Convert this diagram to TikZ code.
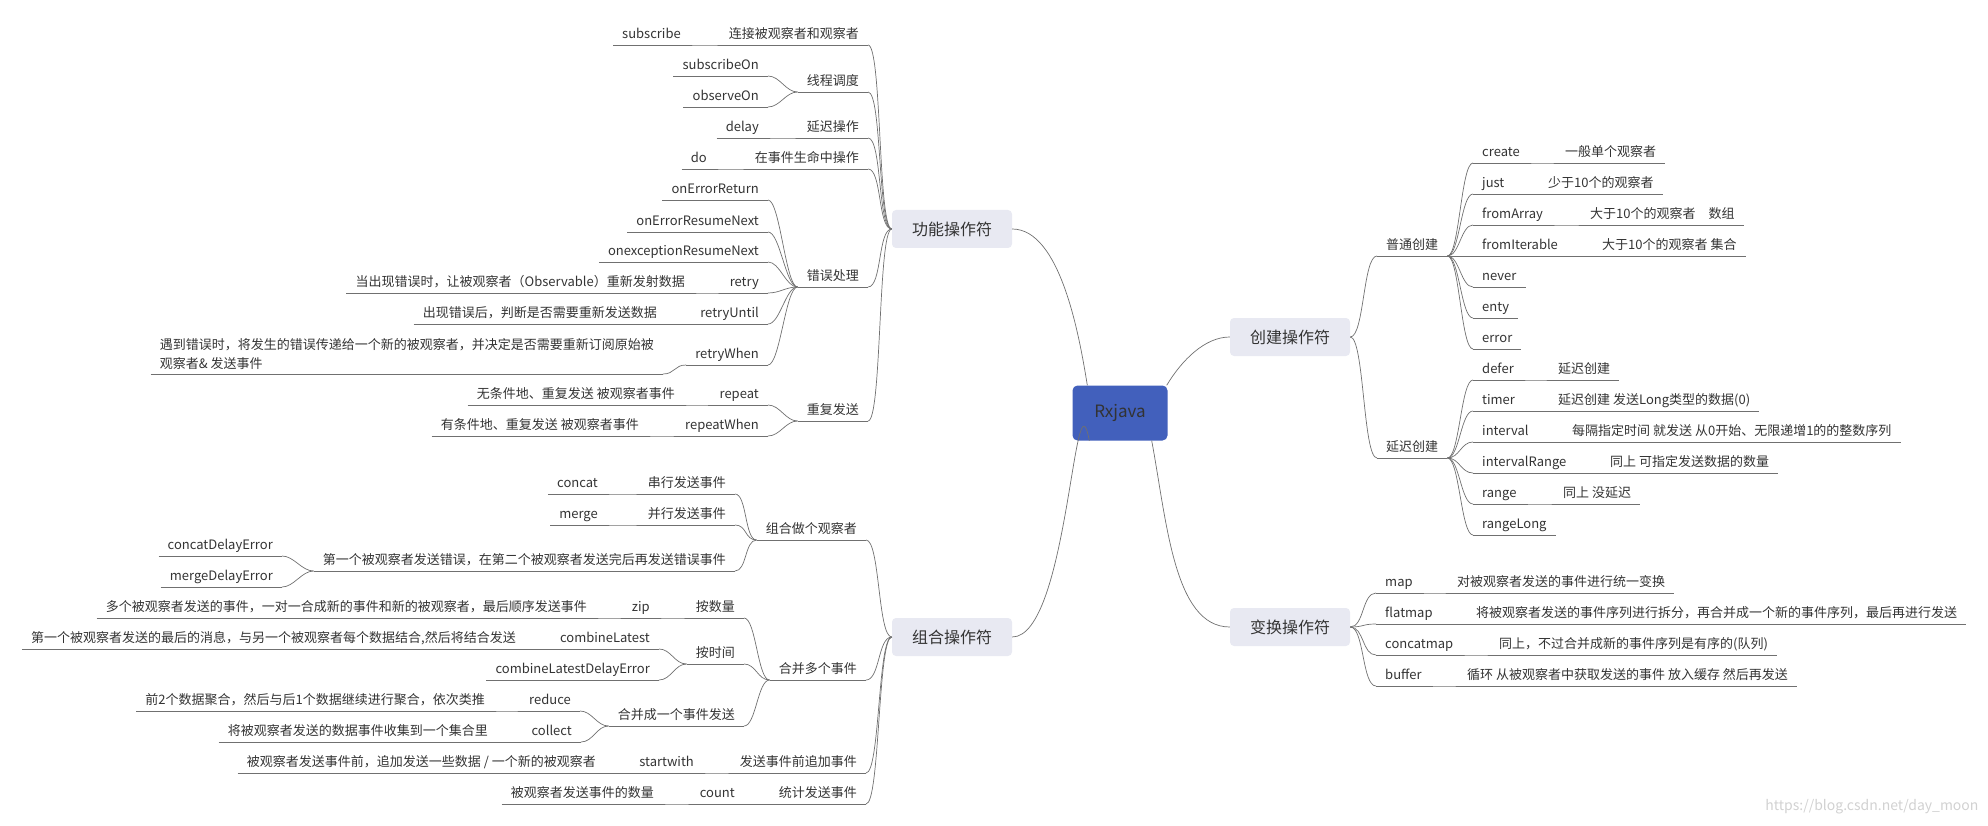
\documentclass[tikz,border=0pt]{standalone}
\usepackage{fontspec}
\setmainfont{Noto Sans CJK SC}
\usepackage{tikz}
\usetikzlibrary{positioning}
\usepackage{xcolor}
\definecolor{ink}{rgb}{0.2, 0.2, 0.2}
\definecolor{wire}{rgb}{0.44, 0.44, 0.44}
\definecolor{boxgray}{rgb}{0.91, 0.914, 0.95}
\definecolor{rootblue}{rgb}{0.26, 0.376, 0.737}
\definecolor{markgray}{rgb}{0.82, 0.82, 0.82}

\begin{document}
\begin{tikzpicture}[x=1pt, y=-1pt,
			lnk/.style={draw=wire, line width=0.7pt},
			lbl/.style={font=\fontsize{13}{19}\selectfont, text=ink, inner xsep=9pt,
				append after command={(\tikzlastnode.south west) edge[lnk] (\tikzlastnode.south east)}},
			topic/.style={lbl, inner ysep=0.5pt, text height=10pt, text depth=5.5pt},
			lt/.style={topic, anchor=south east},
			rt/.style={topic, anchor=south west},
			note/.style={lbl, align=left, inner ysep=4.5pt, anchor=south east},
			opbox/.style={fill=boxgray, rounded corners=4pt, minimum width=120pt, minimum height=38pt, font=\fontsize{16}{18}\selectfont, text=ink},
			rootbox/.style={fill=rootblue, rounded corners=5pt, minimum width=95pt, minimum height=55pt, font=\fontsize{17}{20}\selectfont, text=ink}
		]
		\useasboundingbox (0,0) rectangle (1988,826);
		\node[rootbox] (root) at (1120,413) {Rxjava};

		\node[opbox] (funcop) at (952,229) {功能操作符};
		\node[lt] (link) at (868,45) {连接被观察者和观察者};
		\node[lt] (subscribe) at (690,45) {subscribe};
		\node[lt] (sched) at (868,92) {线程调度};
		\node[lt] (subOn) at (768,76) {subscribeOn};
		\node[lt] (obsOn) at (768,107) {observeOn};
		\node[lt] (delayop) at (868,138) {延迟操作};
		\node[lt] (delay) at (768,138) {delay};
		\node[lt] (lifeop) at (868,169) {在事件生命中操作};
		\node[lt] (do) at (716,169) {do};
		\node[lt] (errop) at (868,287) {错误处理};
		\node[lt] (onErrRet) at (768,200) {onErrorReturn};
		\node[lt] (onErrRes) at (768,232) {onErrorResumeNext};
		\node[lt] (onExcRes) at (768,262) {onexceptionResumeNext};
		\node[lt] (retry) at (768,293) {retry};
		\node[lt] (retryD) at (694,293) {当出现错误时，让被观察者（Observable）重新发射数据};
		\node[lt] (retryUntil) at (768,324) {retryUntil};
		\node[lt] (retryUntilD) at (666,324) {出现错误后，判断是否需要重新发送数据};
		\node[lt] (retryWhen) at (768,365) {retryWhen};
		\node[note] (retryWhenD) at (663,374) {遇到错误时，将发生的错误传递给一个新的被观察者，并决定是否需要重新订阅原始被\\观察者\& 发送事件};
		\node[lt] (repeatop) at (868,421) {重复发送};
		\node[lt] (repeat) at (768,405) {repeat};
		\node[lt] (repeatD) at (684,405) {无条件地、重复发送 被观察者事件};
		\node[lt] (repeatWhen) at (768,436) {repeatWhen};
		\node[lt] (repeatWhenD) at (648,436) {有条件地、重复发送 被观察者事件};

		\node[opbox] (combop) at (952,637) {组合操作符};
		\node[lt] (multiObs) at (866,540) {组合做个观察者};
		\node[lt] (serial) at (735,494) {串行发送事件};
		\node[lt] (concat) at (607,494) {concat};
		\node[lt] (parallel) at (735,525) {并行发送事件};
		\node[lt] (merge) at (607,525) {merge};
		\node[lt] (delayErr) at (735,571) {第一个被观察者发送错误，在第二个被观察者发送完后再发送错误事件};
		\node[lt] (concatDE) at (282,556) {concatDelayError};
		\node[lt] (mergeDE) at (282,587) {mergeDelayError};
		\node[lt] (multiEv) at (866,680) {合并多个事件};
		\node[lt] (byCount) at (744,618) {按数量};
		\node[lt] (zip) at (659,618) {zip};
		\node[lt] (zipD) at (596,618) {多个被观察者发送的事件，一对一合成新的事件和新的被观察者，最后顺序发送事件};
		\node[lt] (byTime) at (744,664) {按时间};
		\node[lt] (combLatest) at (659,649) {combineLatest};
		\node[lt] (combLatestD) at (525,649) {第一个被观察者发送的最后的消息，与另一个被观察者每个数据结合,然后将结合发送};
		\node[lt] (combLatestDE) at (659,680) {combineLatestDelayError};
		\node[lt] (toOne) at (744,726) {合并成一个事件发送};
		\node[lt] (reduce) at (580,711) {reduce};
		\node[lt] (reduceD) at (494,711) {前2个数据聚合，然后与后1个数据继续进行聚合，依次类推};
		\node[lt] (collect) at (581,742) {collect};
		\node[lt] (collectD) at (497,742) {将被观察者发送的数据事件收集到一个集合里};
		\node[lt] (prepend) at (866,773) {发送事件前追加事件};
		\node[lt] (startWith) at (703,773) {startwith};
		\node[lt] (startWithD) at (605,773) {被观察者发送事件前，追加发送一些数据 / 一个新的被观察者};
		\node[lt] (countop) at (866,804) {统计发送事件};
		\node[lt] (count) at (744,804) {count};
		\node[lt] (countD) at (663,804) {被观察者发送事件的数量};

		\node[opbox] (createop) at (1290,337) {创建操作符};
		\node[rt] (plain) at (1377,256) {普通创建};
		\node[rt] (create) at (1473,163) {create};
		\node[rt] (createD) at (1556,163) {一般单个观察者};
		\node[rt] (just) at (1473,194) {just};
		\node[rt] (justD) at (1539,194) {少于10个的观察者};
		\node[rt] (fromArray) at (1473,225) {fromArray};
		\node[rt] (fromArrayD) at (1581,225) {大于10个的观察者\quad 数组};
		\node[rt] (fromIter) at (1473,256) {fromIterable};
		\node[rt] (fromIterD) at (1593,256) {大于10个的观察者 集合};
		\node[rt] (never) at (1473,287) {never};
		\node[rt] (enty) at (1473,318) {enty};
		\node[rt] (error) at (1473,349) {error};
		\node[rt] (deferred) at (1377,458) {延迟创建};
		\node[rt] (defer) at (1473,380) {defer};
		\node[rt] (deferD) at (1549,380) {延迟创建};
		\node[rt] (timer) at (1473,411) {timer};
		\node[rt] (timerD) at (1549,411) {延迟创建 发送Long类型的数据(0)};
		\node[rt] (interval) at (1473,442) {interval};
		\node[rt] (intervalD) at (1563,442) {每隔指定时间 就发送 从0开始、无限递增1的的整数序列};
		\node[rt] (intervalRange) at (1473,473) {intervalRange};
		\node[rt] (intervalRangeD) at (1601,473) {同上 可指定发送数据的数量};
		\node[rt] (range) at (1473,504) {range};
		\node[rt] (rangeD) at (1554,504) {同上 没延迟};
		\node[rt] (rangeLong) at (1473,535) {rangeLong};

		\node[opbox] (transop) at (1290,627) {变换操作符};
		\node[rt] (map) at (1376,593) {map};
		\node[rt] (mapD) at (1448,593) {对被观察者发送的事件进行统一变换};
		\node[rt] (flatmap) at (1376,624) {flatmap};
		\node[rt] (flatmapD) at (1467,624) {将被观察者发送的事件序列进行拆分，再合并成一个新的事件序列，最后再进行发送};
		\node[rt] (concatmap) at (1376,655) {concatmap};
		\node[rt] (concatmapD) at (1490,655) {同上，不过合并成新的事件序列是有序的(队列)};
		\node[rt] (buffer) at (1376,686) {buffer};
		\node[rt] (bufferD) at (1458,686) {循环 从被观察者中获取发送的事件 放入缓存 然后再发送};

		\node[font=\fontsize{14}{16}\selectfont, text=markgray, anchor=east] (mark) at (1982,807) {https://blog.csdn.net/day\_moon};

		\draw[lnk] (funcop.east) .. controls +(48,0) and +(-8,-50) .. ([xshift=15pt]root.north west);
		\draw[lnk] (combop.east) .. controls +(56,0) and +(-15,-80) .. ([xshift=17pt]root.south west);
		\draw[lnk] ([xshift=-1pt]root.north east) .. controls +(15,-25) and +(-25,0) .. (createop.west);
		\draw[lnk] ([xshift=-16pt]root.south east) .. controls +(15,80) and +(-56,0) .. (transop.west);

		\foreach \c in {link,sched,delayop,lifeop,errop,repeatop}
			\draw[lnk] (funcop.west) .. controls +(-14,0) and +(14,0) .. (\c.south east);
		\foreach \c in {multiObs,multiEv,prepend,countop}
			\draw[lnk] (combop.west) .. controls +(-14,0) and +(14,0) .. (\c.south east);
		\foreach \c in {plain,deferred}
			\draw[lnk] (createop.east) .. controls +(14,0) and +(-14,0) .. (\c.south west);
		\foreach \c in {map,flatmap,concatmap,buffer}
			\draw[lnk] (transop.east) .. controls +(14,0) and +(-14,0) .. (\c.south west);

		\foreach \p/\c in {link/subscribe, sched/subOn, sched/obsOn, delayop/delay, lifeop/do,
				errop/onErrRet, errop/onErrRes, errop/onExcRes, errop/retry, errop/retryUntil, errop/retryWhen,
				retry/retryD, retryUntil/retryUntilD, retryWhen/retryWhenD,
				repeatop/repeat, repeatop/repeatWhen, repeat/repeatD, repeatWhen/repeatWhenD,
				multiObs/serial, multiObs/parallel, multiObs/delayErr, serial/concat, parallel/merge,
				delayErr/concatDE, delayErr/mergeDE,
				multiEv/byCount, multiEv/byTime, multiEv/toOne, byCount/zip, zip/zipD,
				byTime/combLatest, byTime/combLatestDE, combLatest/combLatestD,
				toOne/reduce, toOne/collect, reduce/reduceD, collect/collectD,
				prepend/startWith, startWith/startWithD, countop/count, count/countD}
			\draw[lnk] (\p.south west) .. controls +(-12,0) and +(12,0) .. (\c.south east);

		\foreach \p/\c in {plain/create, plain/just, plain/fromArray, plain/fromIter, plain/never, plain/enty, plain/error,
				create/createD, just/justD, fromArray/fromArrayD, fromIter/fromIterD,
				deferred/defer, deferred/timer, deferred/interval, deferred/intervalRange, deferred/range, deferred/rangeLong,
				defer/deferD, timer/timerD, interval/intervalD, intervalRange/intervalRangeD, range/rangeD,
				map/mapD, flatmap/flatmapD, concatmap/concatmapD, buffer/bufferD}
			\draw[lnk] (\p.south east) .. controls +(12,0) and +(-12,0) .. (\c.south west);
	\end{tikzpicture}
\end{document}
